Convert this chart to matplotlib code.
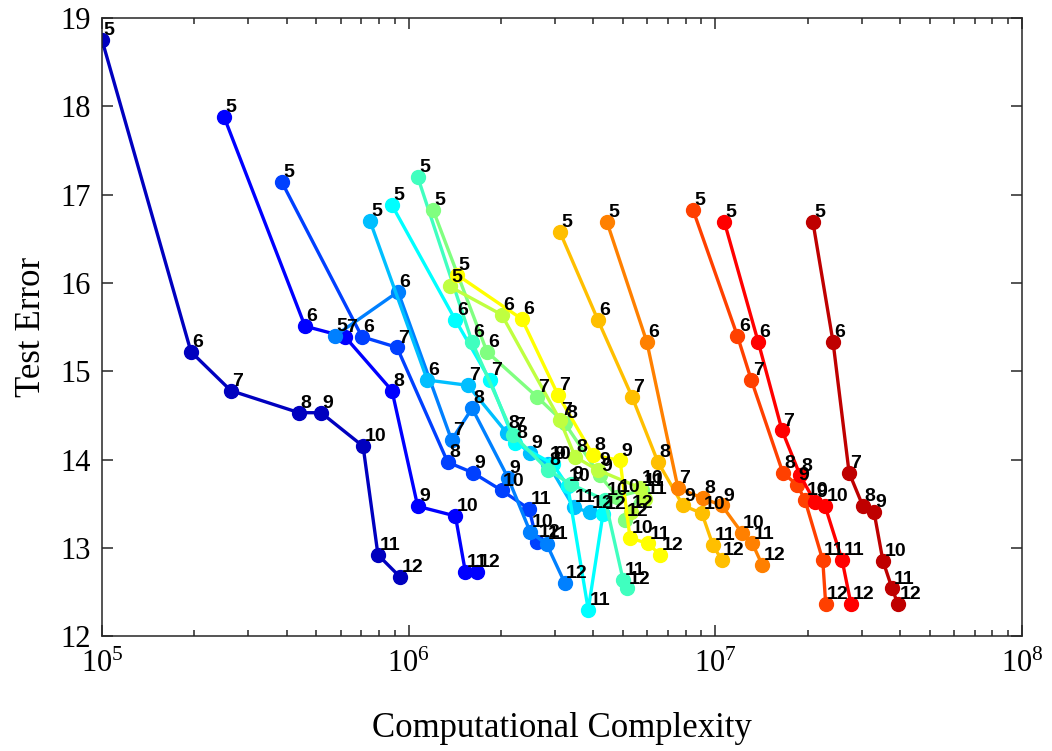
import matplotlib
matplotlib.use("Agg")
import matplotlib.pyplot as plt
import numpy as np

# number of layers / depth setting shown next to every point
depths = [5, 6, 7, 8, 9, 10, 11, 12]

cc_01 = [1.00e5, 1.95e5, 2.63e5, 4.39e5, 5.18e5, 7.10e5, 7.94e5, 9.37e5]
err_01 = [18.75, 15.22, 14.78, 14.53, 14.53, 14.15, 12.92, 12.67]

cc_02 = [2.50e5, 4.59e5, 6.20e5, 8.82e5, 1.07e6, 1.42e6, 1.53e6, 1.67e6]
err_02 = [17.88, 15.51, 15.39, 14.78, 13.47, 13.36, 12.73, 12.73]

cc_03 = [3.86e5, 7.04e5, 9.16e5, 1.34e6, 1.62e6, 2.01e6, 2.47e6, 2.62e6]
err_03 = [17.14, 15.39, 15.27, 13.97, 13.85, 13.65, 13.44, 13.07]

cc_04 = [5.75e5, 9.23e5, 1.38e6, 1.61e6, 2.11e6, 2.49e6, 2.82e6, 3.23e6]
err_04 = [15.40, 15.90, 14.22, 14.58, 13.79, 13.18, 13.04, 12.60]

cc_05 = [7.48e5, 1.15e6, 1.56e6, 2.09e6, 2.49e6, 2.85e6, 3.45e6, 3.90e6]
err_05 = [16.70, 14.90, 14.84, 14.30, 14.07, 13.95, 13.46, 13.40]

cc_06 = [8.82e5, 1.42e6, 1.84e6, 2.22e6, 2.95e6, 3.30e6, 3.85e6, 4.30e6]
err_06 = [16.88, 15.58, 14.90, 14.19, 13.95, 13.70, 12.30, 13.38]

cc_07 = [1.07e6, 1.61e6, 2.19e6, 2.85e6, 3.38e6, 4.37e6, 5.00e6, 5.15e6]
err_07 = [17.20, 15.33, 14.28, 13.88, 13.72, 13.54, 12.64, 12.54]

cc_08 = [1.20e6, 1.80e6, 2.62e6, 3.23e6, 4.20e6, 4.78e6, 5.77e6, 5.07e6]
err_08 = [16.83, 15.22, 14.71, 14.41, 13.82, 13.58, 13.65, 13.31]

cc_09 = [1.36e6, 2.01e6, 3.11e6, 3.49e6, 4.14e6, 5.68e6, 5.90e6, 5.30e6]
err_09 = [15.96, 15.64, 14.45, 14.03, 13.88, 13.68, 13.55, 13.40]

cc_10 = [1.44e6, 2.34e6, 3.07e6, 3.99e6, 4.89e6, 5.27e6, 6.03e6, 6.60e6]
err_10 = [16.09, 15.59, 14.73, 14.05, 13.99, 13.11, 13.05, 12.92]

cc_11 = [3.11e6, 4.14e6, 5.35e6, 6.50e6, 7.84e6, 9.04e6, 9.82e6, 1.05e7]
err_11 = [16.58, 15.58, 14.71, 13.97, 13.48, 13.39, 13.03, 12.86]

cc_12 = [4.43e6, 5.98e6, 7.55e6, 9.11e6, 1.05e7, 1.22e7, 1.32e7, 1.42e7]
err_12 = [16.69, 15.33, 13.68, 13.56, 13.48, 13.17, 13.05, 12.81]

cc_13 = [8.45e6, 1.18e7, 1.31e7, 1.66e7, 1.85e7, 1.96e7, 2.24e7, 2.29e7]
err_13 = [16.83, 15.40, 14.90, 13.85, 13.71, 13.54, 12.86, 12.36]

cc_14 = [1.07e7, 1.38e7, 1.65e7, 1.89e7, 2.11e7, 2.28e7, 2.59e7, 2.77e7]
err_14 = [16.69, 15.33, 14.33, 13.82, 13.52, 13.47, 12.86, 12.36]

cc_15 = [2.08e7, 2.42e7, 2.73e7, 3.03e7, 3.29e7, 3.52e7, 3.77e7, 3.94e7]
err_15 = [16.69, 15.33, 13.85, 13.47, 13.41, 12.85, 12.54, 12.36]

complexities = [cc_01, cc_02, cc_03, cc_04, cc_05, cc_06, cc_07, cc_08,
                cc_09, cc_10, cc_11, cc_12, cc_13, cc_14, cc_15]
errors = [err_01, err_02, err_03, err_04, err_05, err_06, err_07, err_08,
          err_09, err_10, err_11, err_12, err_13, err_14, err_15]


def matlab_jet(m):
    # same construction as MATLAB's jet(m)
    n = int(np.ceil(m / 4))
    u = np.concatenate([np.arange(1, n + 1) / n, np.ones(n - 1),
                        np.arange(n, 0, -1) / n])
    g = int(np.ceil(n / 2)) - int(m % 4 == 1) + np.arange(1, len(u) + 1)
    r = g + n
    b = g - n
    J = np.zeros((m, 3))
    J[r[r <= m] - 1, 0] = u[r <= m]
    J[g[g <= m] - 1, 1] = u[g <= m]
    J[b[b >= 1] - 1, 2] = u[b >= 1]
    return J


colors = matlab_jet(len(complexities))

plt.rcParams["font.family"] = "Liberation Serif"
plt.rcParams["mathtext.fontset"] = "stix"

fig = plt.figure(figsize=(10.52, 7.51), dpi=100)
ax = fig.add_axes([0.097, 0.153, 0.8745, 0.823])

for cx, err, col in zip(complexities, errors, colors):
    ax.plot(cx, err, "-o", color=col, lw=2.4, ms=10, mec=col, mfc=col)

for cx, err in zip(complexities, errors):
    for x, y, d in zip(cx, err, depths):
        ax.annotate(str(d), (x, y), xytext=(1, 3.5), textcoords="offset points",
                    ha="left", va="baseline", fontsize=14, fontweight="bold",
                    family="Liberation Sans", zorder=5)

ax.set_xscale("log")
ax.set_xlim(1e5, 1e8)
ax.set_ylim(12, 19)
ax.set_yticks(range(12, 20))
ax.tick_params(which="both", direction="in", top=True, right=True,
               labelsize=22, width=1.1, colors="#262626")
ax.tick_params(which="major", length=8, pad=8)
ax.tick_params(axis="x", which="major", pad=10)
ax.tick_params(which="minor", length=4)
for lab in ax.get_xticklabels() + ax.get_yticklabels():
    lab.set_color("black")
for sp in ax.spines.values():
    sp.set_linewidth(1.1)
    sp.set_color("#262626")

ax.set_xlabel("Computational Complexity", fontsize=25)
ax.set_ylabel("Test Error", fontsize=25)
ax.xaxis.set_label_coords(0.5, -0.122)
ax.yaxis.set_label_coords(-0.059, 0.5)

fig.savefig("out.png", dpi=100)
